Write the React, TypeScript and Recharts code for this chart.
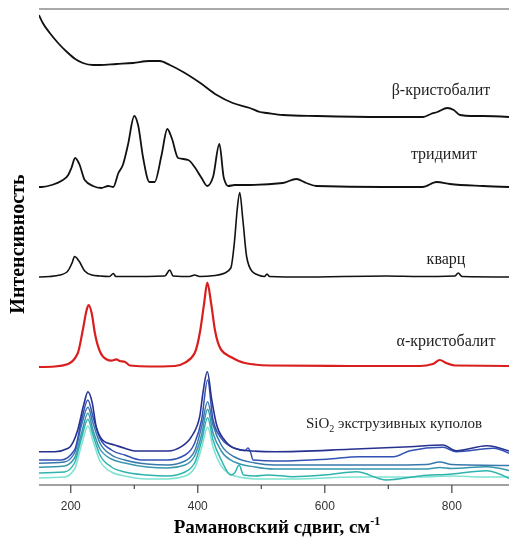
import React from "react";
import {
  LineChart,
  Line,
  XAxis,
  YAxis,
  ReferenceLine,
  Customized,
} from "recharts";

// wavenumber (cm-1), intensity (offset units)
const betaCristobalite = [
  [150, 470], [156, 462], [167, 452], [180, 442], [194, 433], [207, 426], [219, 422],
  [235, 420], [246, 420], [272, 421], [298, 422], [324, 424], [340, 424], [356, 420],
  [377, 413], [404, 402], [430, 390], [455, 382], [482, 377], [498, 373], [509, 372],
  [534, 370], [588, 369], [692, 368], [755, 368], [767, 371], [777, 373], [793, 377],
  [803, 375], [813, 370], [830, 369], [849, 369], [890, 368],
];

const tridymite = [
  [150, 298], [154, 298], [170, 300], [185, 304], [196, 310], [201, 317], [207, 327],
  [214, 320], [222, 305], [235, 299], [248, 297], [259, 299], [267, 298], [275, 312],
  [282, 320], [290, 340], [300, 369], [306, 360], [314, 327], [324, 303], [332, 303],
  [343, 330], [352, 356], [359, 347], [369, 327], [385, 325], [395, 318], [406, 307],
  [415, 299], [424, 308], [434, 341], [441, 307], [448, 299], [458, 300], [482, 300],
  [534, 302], [555, 306], [571, 302], [587, 299], [691, 298], [754, 298], [776, 303],
  [797, 301], [849, 299], [890, 298],
];

const quartz = [
  [150, 208], [167, 208.5], [183, 210], [194, 213], [202, 222], [206, 228.5], [213, 224],
  [222, 214], [233, 210], [246, 209], [261, 208.5], [267, 211.5], [271, 208.5], [293, 208.5],
  [348, 209], [356, 215], [361, 209], [387, 208.5], [395, 210], [403, 208.5], [427, 209.5],
  [443, 212], [452, 217], [458, 245], [462, 275], [466, 292.5], [471, 265], [477, 228],
  [485, 214], [495, 210], [505, 208.5], [509, 211], [513, 208.5], [561, 208], [697, 209],
  [750, 208.5], [805, 209], [810, 212], [816, 208.5], [890, 208],
];

const alphaCristobalite = [
  [150, 118], [175, 118.5], [196, 121], [211, 131.7], [219, 155], [225, 175], [228, 180],
  [233, 171.7], [238, 151.7], [246, 133.3], [256, 125.7], [264, 124.3], [272, 125.7],
  [277, 124], [285, 123.3], [293, 119.5], [324, 118.5], [364, 119], [380, 122.3],
  [395, 131.7], [404, 155], [410, 181.7], [415, 202.3], [421, 181.7], [427, 155],
  [437, 135], [453, 127.7], [474, 122], [513, 119.5], [639, 119], [750, 119], [770, 121],
  [781, 125], [791, 122], [805, 119.5], [890, 119],
];

const dome1 = [
  [150, 33.3], [175, 33.3], [196, 36.7], [211, 55], [221, 81.7], [227, 93.3], [234, 81.7],
  [240, 58.3], [253, 43.3], [269, 40], [285, 36.7], [301, 34], [353, 34], [374, 38.3],
  [390, 48.3], [403, 68.3], [408, 91.7], [415, 113.3], [422, 85], [429, 61.7], [442, 45],
  [458, 36.7], [479, 34.3], [521, 33.3], [639, 35.7], [734, 38.3], [786, 40], [807, 34.3],
  [855, 39.3], [890, 34],
];

const dome2 = [
  [150, 25], [185, 25], [206, 35], [217, 65], [227, 85], [235, 68.3], [246, 46.7],
  [264, 35], [285, 30], [311, 25], [353, 25], [380, 30], [395, 41.7], [406, 65],
  [415.5, 105], [424, 65], [437, 46.7], [458, 36.7], [474, 34.3], [479, 37], [483, 33],
  [487, 25], [521, 24], [550, 24.3], [603, 25.7], [655, 28.3], [708, 28.3], [734, 34.3],
  [786, 37.7], [807, 33.3], [865, 36.7], [890, 31.7],
];

const dome3 = [
  [150, 21.7], [190, 23], [206, 32], [217, 60], [227, 77.7], [235, 62], [246, 42],
  [264, 30], [285, 25], [320, 21], [353, 20], [380, 24], [395, 34], [406, 58],
  [415.5, 83.3], [424, 60], [437, 40], [458, 28], [490, 22], [520, 20], [600, 20],
  [700, 20], [760, 20.5], [781, 23], [800, 20.5], [890, 19.5],
];

const dome4 = [
  [150, 17.7], [190, 19], [206, 27], [217, 52], [227, 71.7], [235, 55], [246, 36],
  [264, 26], [285, 22], [320, 18], [353, 17], [380, 20], [395, 29], [406, 50],
  [415.5, 75.7], [424, 52], [437, 34], [458, 23], [490, 18], [520, 16], [600, 16],
  [700, 16], [760, 16], [781, 17.5], [800, 16.5], [855, 18.3], [890, 14.5],
];

const dome5 = [
  [150, 12], [190, 13], [206, 22], [217, 47], [227, 65.7], [235, 50], [246, 30],
  [264, 18], [285, 13], [320, 10], [353, 9], [380, 13], [395, 22], [406, 44],
  [415.5, 67.3], [424, 45], [437, 25], [452, 10], [458, 12], [465, 20], [472, 10],
  [490, 9], [510, 10], [550, 8.3], [600, 10], [650, 13.3], [697, 5], [750, 9],
  [800, 11], [855, 14.3], [890, 6.7],
];

const dome6 = [
  [150, 7], [190, 8], [206, 16], [217, 40], [227, 59], [235, 44], [246, 24],
  [264, 13], [285, 9], [320, 6], [353, 6], [380, 9], [395, 17], [406, 37],
  [415.5, 57.7], [424, 38], [437, 19], [458, 9], [490, 6], [550, 6], [650, 8],
  [750, 8], [800, 9], [850, 8], [890, 8],
];

const xTicks = [200, 300, 400, 500, 600, 700, 800];

const toRows = (pts: number[][]) => pts.map(([w, v]) => ({ w, v }));

const series = [
  { name: "beta", pts: betaCristobalite, color: "#111", width: 1.8 },
  { name: "trid", pts: tridymite, color: "#111", width: 1.8 },
  { name: "quartz", pts: quartz, color: "#111", width: 1.6 },
  { name: "alpha", pts: alphaCristobalite, color: "#d91e1e", width: 2.2 },
  { name: "d6", pts: dome6, color: "#7ee3d2", width: 1.5 },
  { name: "d5", pts: dome5, color: "#2fb3ae", width: 1.5 },
  { name: "d4", pts: dome4, color: "#3896ae", width: 1.5 },
  { name: "d3", pts: dome3, color: "#3978ad", width: 1.5 },
  { name: "d2", pts: dome2, color: "#3351b5", width: 1.5 },
  { name: "d1", pts: dome1, color: "#27318f", width: 1.6 },
];

const serif = "'Liberation Serif', 'Times New Roman', serif";

const XTick = (props: any) => {
  const { x, y, payload } = props;
  const major = payload.value % 200 === 0;
  return (
    <g>
      <line x1={x} x2={x} y1={y} y2={y + (major ? 8 : 4)} stroke="#444" strokeWidth={1.2} />
      {major && (
        <text
          x={x}
          y={y + 25}
          textAnchor="middle"
          fontSize={12}
          fill="#333"
          fontFamily="'Liberation Sans', Arial, sans-serif"
        >
          {payload.value}
        </text>
      )}
    </g>
  );
};

const Labels = () => (
  <g fontFamily={serif} fill="#222">
    <text x={441} y={95} textAnchor="middle" fontSize={16}>β-кристобалит</text>
    <text x={444} y={159} textAnchor="middle" fontSize={16}>тридимит</text>
    <text x={446} y={264} textAnchor="middle" fontSize={16}>кварц</text>
    <text x={446} y={346} textAnchor="middle" fontSize={16}>α-кристобалит</text>
    <text x={394} y={428} textAnchor="middle" fontSize={15}>
      SiO<tspan fontSize={10} dy={4}>2</tspan>
      <tspan dy={-4}> экструзивных куполов</tspan>
    </text>
    <text
      x={17}
      y={244}
      transform="rotate(-90, 17, 244)"
      textAnchor="middle"
      dominantBaseline="central"
      fontSize={20}
      fontWeight="bold"
      fill="#000"
    >
      Интенсивность
    </text>
    <text x={277} y={533} textAnchor="middle" fontSize={19} fontWeight="bold" fill="#000">
      Рамановский сдвиг, см<tspan fontSize={12} dy={-8}>-1</tspan>
    </text>
  </g>
);

export default function App() {
  return (
    <div style={{ position: "fixed", left: 0, top: 0 }}>
      <LineChart
        width={509}
        height={537}
        margin={{ top: 9, right: 0, bottom: 22, left: 39 }}
      >
        <XAxis
          type="number"
          dataKey="w"
          domain={[150, 890]}
          ticks={xTicks}
          height={30}
          tickSize={0}
          tickMargin={0}
          tickLine={false}
          tick={<XTick />}
          axisLine={{ stroke: "#444", strokeWidth: 1.2 }}
          allowDataOverflow
        />
        <YAxis
          type="number"
          domain={[0, 476]}
          width={0}
          tick={false}
          tickLine={false}
          axisLine={{ stroke: "#888", strokeWidth: 1.2 }}
          allowDataOverflow
        />
        <ReferenceLine y={476} stroke="#555" strokeWidth={1.2} />
        {series.map((s) => (
          <Line
            key={s.name}
            data={toRows(s.pts)}
            dataKey="v"
            type="monotone"
            stroke={s.color}
            strokeWidth={s.width}
            dot={false}
            activeDot={false}
            isAnimationActive={false}
          />
        ))}
        <Customized component={<Labels />} />
      </LineChart>
    </div>
  );
}
